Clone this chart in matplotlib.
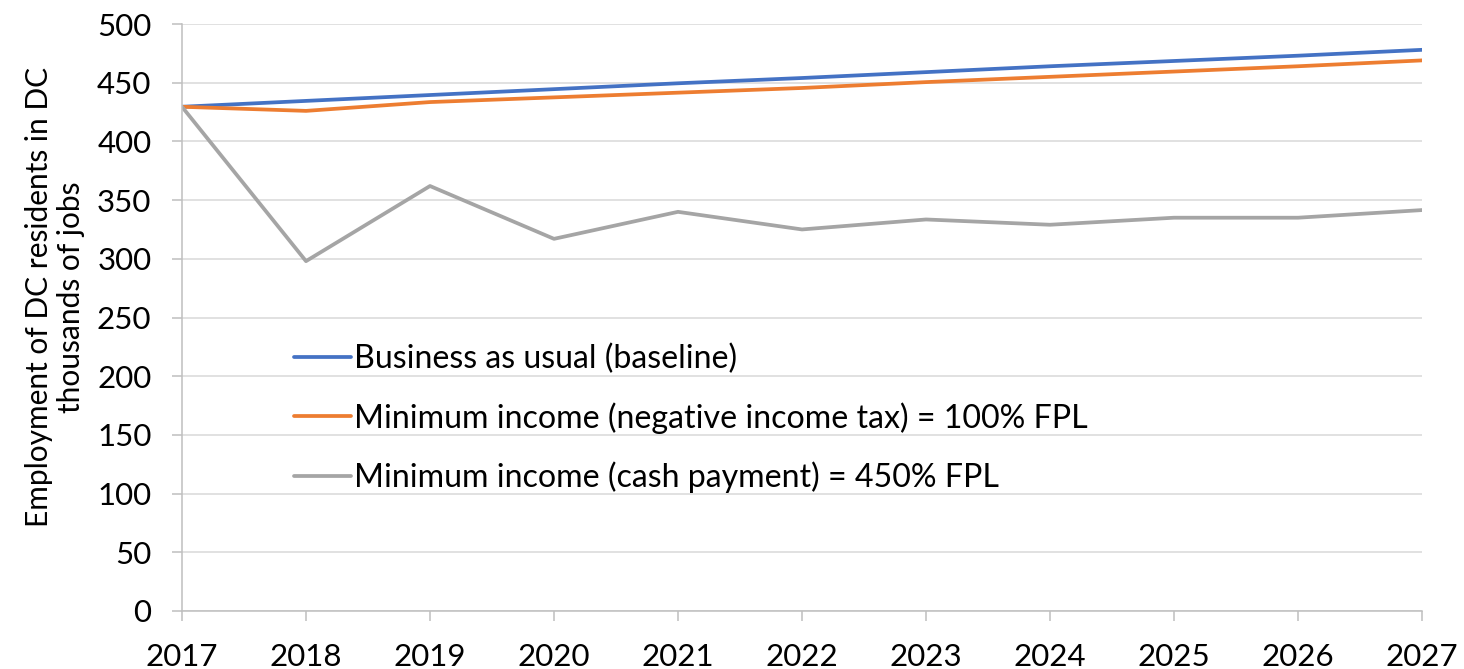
import matplotlib.pyplot as plt

years = [2017, 2018, 2019, 2020, 2021, 2022, 2023, 2024, 2025, 2026, 2027]
baseline = [429.5, 434.5, 439.5, 444.5, 449.5, 454, 459, 464, 468.5, 473, 478]
neg_income_tax = [429.5, 426, 433.5, 437.5, 441.5, 445.5, 450.5, 455, 459.5, 464, 469]
cash_payment = [429.5, 298, 362, 317, 340, 325, 333.5, 329, 335, 335, 341.5]

labels = ['Business as usual (baseline)',
          'Minimum income (negative income tax) = 100% FPL',
          'Minimum income (cash payment) = 450% FPL']
colors = ['#4472C4', '#ED7D31', '#A5A5A5']

plt.rcParams['font.family'] = ['Lato', 'DejaVu Sans']

fig = plt.figure(figsize=(14.64, 6.69), dpi=100)
ax = fig.add_axes([182 / 1464, 58 / 669, 1240 / 1464, 587 / 669])

for series, label, color in zip([baseline, neg_income_tax, cash_payment], labels, colors):
    ax.plot(years, series, color=color, lw=2.7, label=label, solid_capstyle='round')

ax.set_xlim(2017, 2027)
ax.set_ylim(0, 500)
ax.set_xticks(years)
ax.set_yticks(range(0, 501, 50))
ax.grid(axis='y', color='#D9D9D9', lw=1.1)
ax.set_axisbelow(True)

for side in ['top', 'right']:
    ax.spines[side].set_visible(False)
for side in ['left', 'bottom']:
    ax.spines[side].set_color('#BFBFBF')
    ax.spines[side].set_linewidth(1.1)

ax.tick_params(axis='both', colors='#BFBFBF', labelcolor='black', labelsize=22.5,
               length=7, width=1.1)
ax.tick_params(axis='y', pad=15)
ax.tick_params(axis='x', pad=16)

ax.set_ylabel('Employment of DC residents in DC\nthousands of jobs', fontsize=21.5,
              linespacing=1.2)
ax.yaxis.set_label_coords(-0.078, 0.535)

ax.legend(loc='upper left', bbox_to_anchor=(0.0905, 0.455), frameon=False,
          fontsize=23.1, handlelength=1.78, handletextpad=0.08, labelspacing=0.86,
          borderpad=0, borderaxespad=0)

fig.savefig('out.png', dpi=100)
